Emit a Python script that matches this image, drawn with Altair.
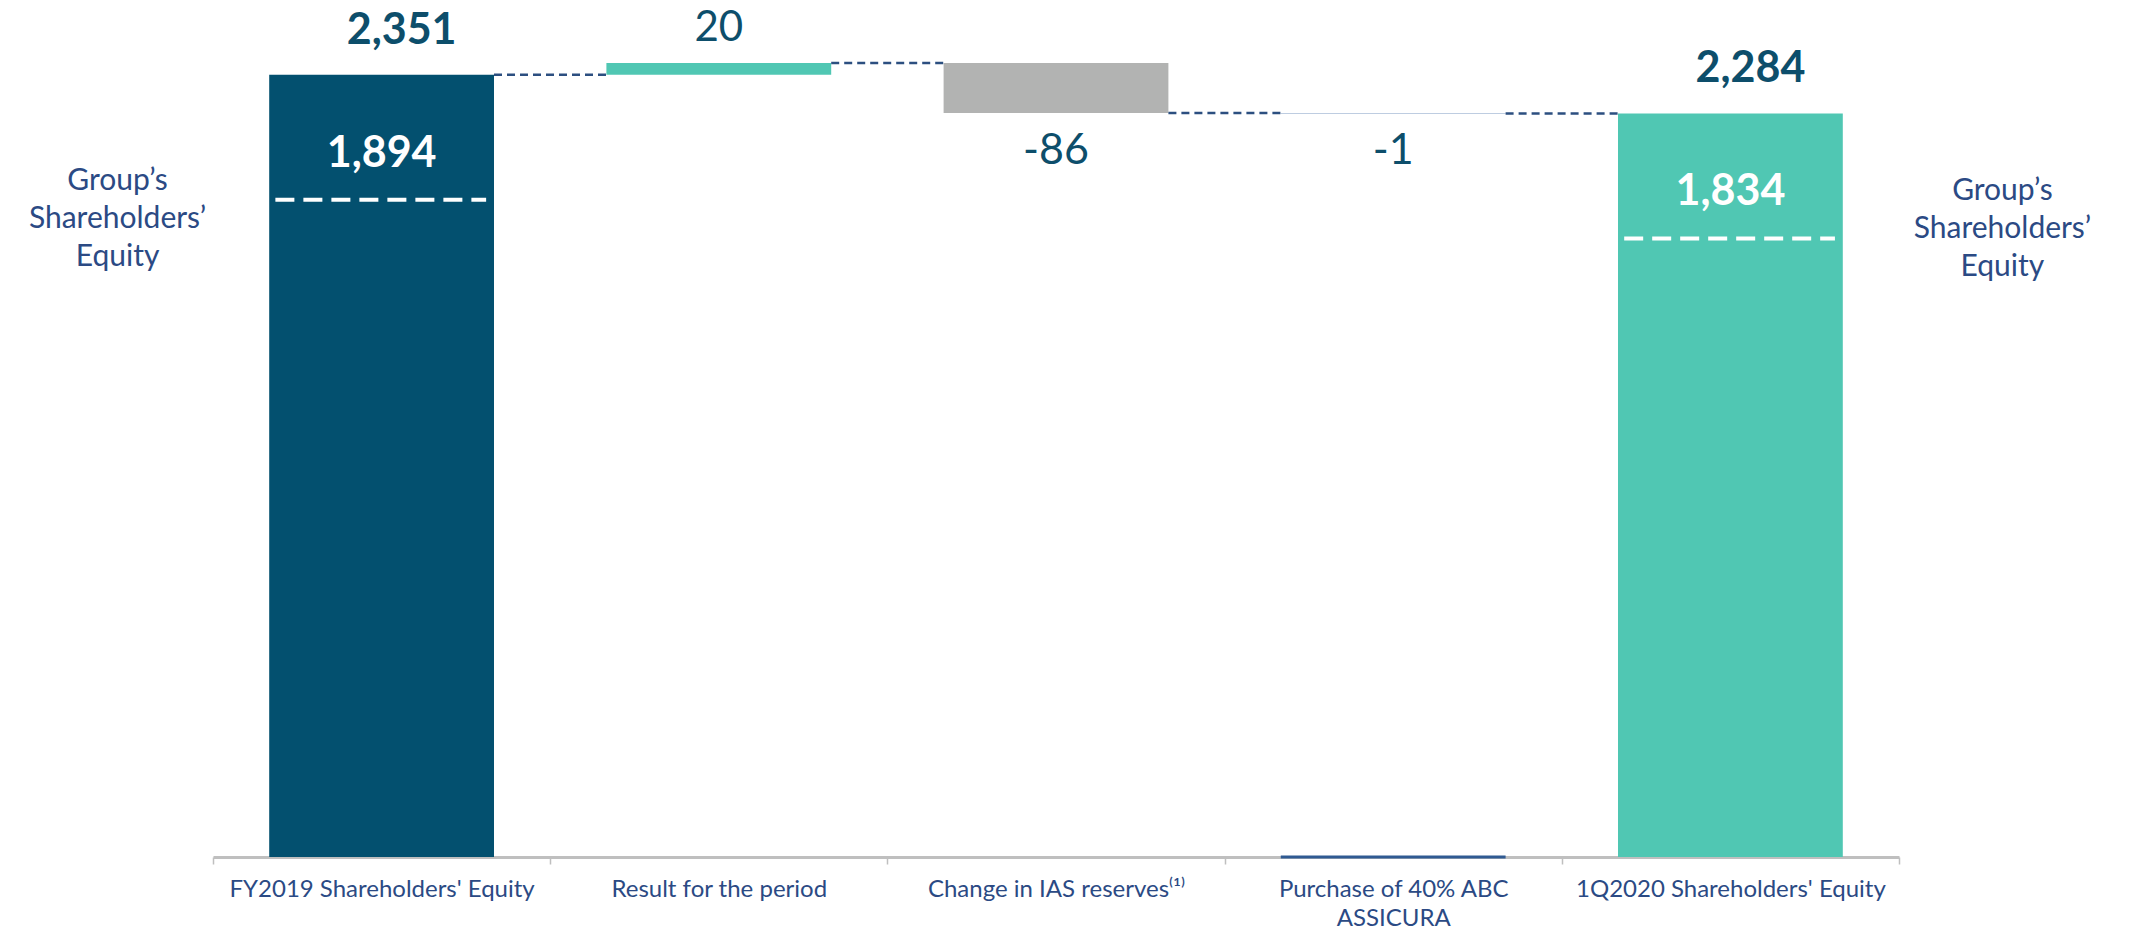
import altair as alt
import pandas as pd

# ---- data -------------------------------------------------------------
categories = [
    "FY2019 Shareholders' Equity",
    "Result for the period",
    "Change in IAS reserves⁽¹⁾",
    "Purchase of 40% ABC\nASSICURA",
    "1Q2020 Shareholders' Equity",
]
values = [2351, 20, -86, -1, 2284]
kinds = ["opening", "increase", "decrease", "acquisition", "closing"]
group_equity = [1894, None, None, None, 1834]
value_labels = ["2,351", "20", "-86", "-1", "2,284"]
side_label = "Group’s\nShareholders’\nEquity"

# ---- styling ------------------------------------------------------------
BASE = 1000          # value axis starts here (bars grow from it)
TOP = 2480
FONT = "Lato, 'Open Sans', sans-serif"
DARK = "#03506F"
TEAL = "#50C7B3"
GRAY = "#B2B3B2"
ACQ = "#7F9CC4"
NUM_COLOR = "#0D4E6B"
TEXT_BLUE = "#2B4A84"
CONNECTOR = "#2C4F80"
AXIS_GRAY = "#BFBFBF"

# ---- waterfall geometry from the values --------------------------------
rows = []
running = 0
for cat, val, kind, eq, lab in zip(categories, values, kinds, group_equity, value_labels):
    if kind in ("opening", "closing"):
        start, end = BASE, val
        running = val
    else:
        start, end = running, running + val
        running = end
    rows.append(dict(category=cat, kind=kind, start=start, end=end,
                     top=max(start, end), bottom=min(start, end),
                     equity=eq, label=lab,
                     equity_label=(f"{eq:,}" if eq is not None else "")))
bars = pd.DataFrame(rows)

# dashed connectors between consecutive bars, at the running level
conn = pd.DataFrame({
    "category": categories[:-1],
    "next": categories[1:],
    "level": [r["end"] for r in rows[:-1]],
})

x_scale = alt.Scale(domain=categories, paddingInner=0, paddingOuter=0)
y_scale = alt.Scale(domain=[BASE, TOP], zero=False, nice=False)

x_axis = alt.Axis(
    title=None, labelAngle=0, labelFont=FONT, labelFontSize=24,
    labelColor=TEXT_BLUE, labelPadding=13, labelLimit=0,
    labelExpr="split(datum.label, '\\n')", labelLineHeight=29,
    tickSize=7, tickColor=AXIS_GRAY, tickWidth=1.5, tickBand="extent",
    domainColor=AXIS_GRAY, domainWidth=3, grid=False,
)

base = alt.Chart(bars)

bar_layer = base.mark_bar(width=alt.RelativeBandSize(2 / 3)).encode(
    x=alt.X("category:N", sort=categories, scale=x_scale, axis=x_axis),
    y=alt.Y("end:Q", scale=y_scale, axis=None),
    y2="start:Q",
    color=alt.Color("kind:N", legend=None, scale=alt.Scale(
        domain=["opening", "increase", "decrease", "acquisition", "closing"],
        range=[DARK, TEAL, GRAY, ACQ, TEAL])),
)

# thin stroke on the baseline under the acquisition bar
acq_base = base.transform_filter("datum.kind == 'acquisition'").transform_calculate(
    baseline=str(BASE)
).mark_rule(color="#2F5A92", strokeWidth=3).encode(
    x=alt.X("category:N", sort=categories, bandPosition=1 / 6),
    x2=alt.X2("category", bandPosition=5 / 6),
    y=alt.Y("baseline:Q"),
)

conn_layer = alt.Chart(conn).mark_rule(
    color=CONNECTOR, strokeWidth=2.5, strokeDash=[8, 5]
).encode(
    x=alt.X("category:N", sort=categories, bandPosition=5 / 6),
    x2=alt.X2("next", bandPosition=1 / 6),
    y="level:Q",
)

total_labels = base.transform_filter(
    "datum.kind == 'opening' || datum.kind == 'closing'"
).mark_text(font=FONT, fontSize=43, fontWeight="bold", color=NUM_COLOR,
            baseline="alphabetic", dy=-31, dx=20).encode(
    x=alt.X("category:N", sort=categories), y="top:Q", text="label:N")

up_labels = base.transform_filter("datum.kind == 'increase'").mark_text(
    font=FONT, fontSize=42, color=NUM_COLOR, baseline="alphabetic", dy=-22
).encode(x=alt.X("category:N", sort=categories), y="top:Q", text="label:N")

down_labels = base.transform_filter(
    "datum.kind == 'decrease' || datum.kind == 'acquisition'"
).mark_text(font=FONT, fontSize=43, color=NUM_COLOR, baseline="alphabetic",
            dy=51).encode(
    x=alt.X("category:N", sort=categories), y="bottom:Q", text="label:N")

equity_labels = base.transform_filter("datum.equity != null").mark_text(
    font=FONT, fontSize=43, fontWeight="bold", color="white",
    baseline="alphabetic", dy=92
).encode(x=alt.X("category:N", sort=categories), y="top:Q", text="equity_label:N")

equity_dash = base.transform_filter("datum.equity != null").mark_rule(
    color="white", strokeWidth=4, strokeDash=[19, 9], yOffset=125
).encode(
    x=alt.X("category:N", sort=categories, bandPosition=0.185),
    x2=alt.X2("category", bandPosition=0.81),
    y="top:Q",
)

side_left = base.transform_filter("datum.kind == 'opening'").mark_text(
    font=FONT, fontSize=30, color=TEXT_BLUE, lineBreak="\n", lineHeight=38,
    baseline="middle", align="center", dx=-264, dy=106,
).encode(x=alt.X("category:N", sort=categories), y="top:Q",
         text=alt.value(side_label))

side_right = base.transform_filter("datum.kind == 'closing'").mark_text(
    font=FONT, fontSize=30, color=TEXT_BLUE, lineBreak="\n", lineHeight=38,
    baseline="middle", align="center", dx=272, dy=78,
).encode(x=alt.X("category:N", sort=categories), y="top:Q",
         text=alt.value(side_label))

chart = alt.layer(
    bar_layer, acq_base, conn_layer, total_labels, up_labels, down_labels,
    equity_labels, equity_dash, side_left, side_right,
).properties(
    width=1686, height=857,
    padding={"left": 213, "top": 0, "right": 234, "bottom": 76},
    autosize=alt.AutoSizeParams(type="none"),
    background="white",
).configure_view(stroke=None)

chart.save("out.html", embed_options={"renderer": "svg", "actions": False})
